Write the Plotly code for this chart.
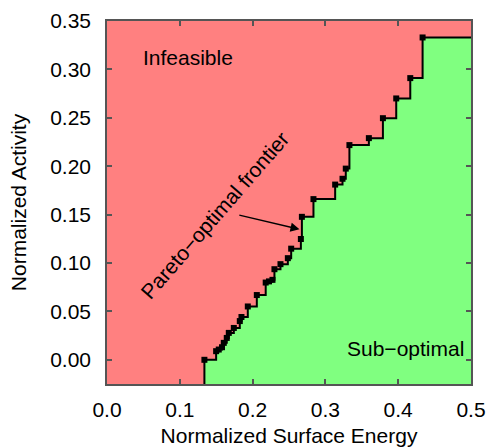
import plotly.graph_objects as go

# Pareto-optimal frontier points (normalized surface energy, normalized activity)
pareto_x = [0.1338, 0.1499, 0.1535, 0.1580, 0.1604, 0.1645, 0.1673, 0.1742, 0.1824, 0.1847,
            0.1934, 0.2058, 0.2180, 0.2225, 0.2273, 0.2300, 0.2383, 0.2484, 0.2530, 0.2663,
            0.2677, 0.2836, 0.3134, 0.3235, 0.3280, 0.3330, 0.3597, 0.3790, 0.3973, 0.4166,
            0.4335]
pareto_y = [0.0000, 0.0089, 0.0106, 0.0130, 0.0175, 0.0226, 0.0278, 0.0329, 0.0400, 0.0442,
            0.0551, 0.0669, 0.0798, 0.0810, 0.0826, 0.0936, 0.0988, 0.1050, 0.1148, 0.1248,
            0.1477, 0.1660, 0.1810, 0.1870, 0.1975, 0.2218, 0.2290, 0.2496, 0.2700, 0.2910,
            0.3330]

x_range = [0.0, 0.5]
y_range = [-0.025, 0.35]
x_ticks = [0.0, 0.1, 0.2, 0.3, 0.4, 0.5]
y_ticks = [0.00, 0.05, 0.10, 0.15, 0.20, 0.25, 0.30, 0.35]

RED = "#FF8080"
GREEN = "#80FF80"
FRAME = "#555555"
FONT = "Liberation Sans, Arial, sans-serif"
FS = 21

# step path (horizontal then vertical) built from the data
step_x = [pareto_x[0]]
step_y = [y_range[0]]
for i, (xv, yv) in enumerate(zip(pareto_x, pareto_y)):
    if i > 0:
        step_x.append(xv)
        step_y.append(pareto_y[i - 1])
    step_x.append(xv)
    step_y.append(yv)
step_x.append(x_range[1])
step_y.append(pareto_y[-1])

fill_x = step_x + [x_range[1], pareto_x[0]]
fill_y = step_y + [y_range[0], y_range[0]]

fig = go.Figure()
fig.add_trace(go.Scatter(x=fill_x, y=fill_y, mode="lines", fill="toself",
                         fillcolor=GREEN, line=dict(width=0, color=GREEN),
                         hoverinfo="skip", showlegend=False))
fig.add_trace(go.Scatter(x=step_x, y=step_y, mode="lines",
                         line=dict(color="black", width=2), showlegend=False))
fig.add_trace(go.Scatter(x=pareto_x, y=pareto_y, mode="markers",
                         marker=dict(symbol="square", size=6, color="black"),
                         showlegend=False))

fig.add_annotation(x=0.111, y=0.312, text="Infeasible", showarrow=False,
                   font=dict(size=FS, color="black", family=FONT))
fig.add_annotation(x=0.41, y=0.0116, text="Sub\u2212optimal", showarrow=False,
                   font=dict(size=FS, color="black", family=FONT))
fig.add_annotation(x=0.1475, y=0.1495, text="Pareto\u2212optimal frontier", showarrow=False,
                   textangle=-49, font=dict(size=FS, color="black", family=FONT))
fig.add_annotation(x=0.2644, y=0.1348, ax=0.1797, ay=0.1498, axref="x", ayref="y",
                   text="", showarrow=True, arrowhead=2, arrowsize=1.2, arrowwidth=1.5,
                   arrowcolor="black", standoff=0, startstandoff=0)

axis_common = dict(showgrid=False, zeroline=False, showline=True, linecolor=FRAME,
                   linewidth=1.5, mirror="ticks", ticks="inside", ticklen=5,
                   tickcolor=FRAME, tickwidth=1.5, automargin=False,
                   tickfont=dict(size=FS, color="black", family=FONT))

fig.update_xaxes(range=x_range, tickvals=x_ticks, tickformat=".1f",
                 ticklabelstandoff=6,
                 title=dict(text="Normalized Surface Energy",
                            font=dict(size=FS, color="black", family=FONT), standoff=8),
                 **axis_common)
fig.update_yaxes(range=y_range, tickvals=y_ticks, tickformat=".2f",
                 ticklabelstandoff=10,
                 title=dict(text="Normalized Activity",
                            font=dict(size=FS, color="black", family=FONT), standoff=18),
                 **axis_common)

fig.update_layout(width=487, height=447, margin=dict(l=107, r=16, t=21, b=63),
                  plot_bgcolor=RED, paper_bgcolor="white",
                  font=dict(family=FONT, color="black"))

fig.write_html("out.html", config={"displayModeBar": False},
               post_script="document.body.style.margin='0';document.body.style.overflow='hidden';")
